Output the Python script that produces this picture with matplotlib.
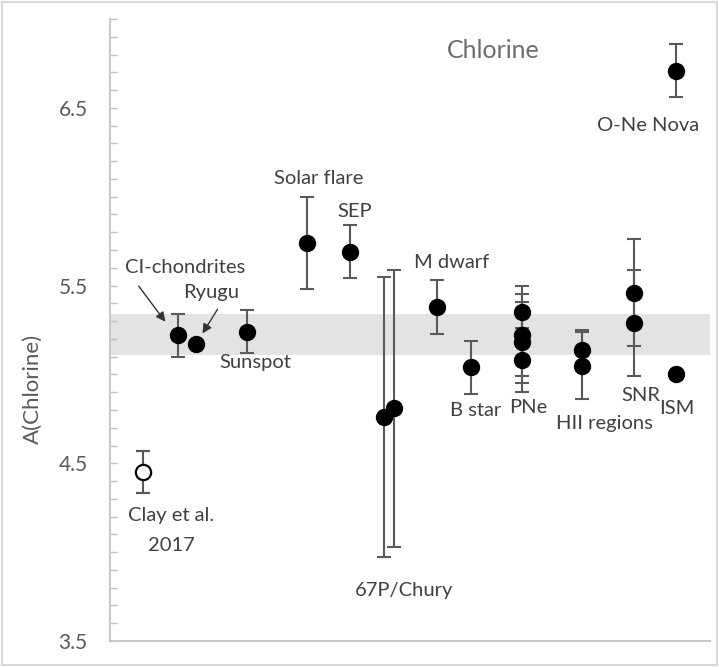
import numpy as np
import matplotlib
matplotlib.use("Agg")
from matplotlib import pyplot as plt
from matplotlib.patches import Rectangle
from matplotlib.ticker import MultipleLocator

plt.rcParams['font.family'] = ['Lato', 'DejaVu Sans']

# --- DATA ---
# x positions are just horizontal slots (no x scale in the original)
names = ['CI-chondrites', 'Ryugu', 'Sunspot', 'Solar flare', 'SEP',
         '67P/Chury a', '67P/Chury b', 'M dwarf', 'B star',
         'PNe 1', 'PNe 2', 'PNe 3', 'PNe 4',
         'HII 1', 'HII 2', 'SNR 1', 'SNR 2', 'ISM', 'O-Ne Nova']
x_pos = [68, 86, 137, 197, 240, 274, 284, 327, 361,
         412, 412, 412, 412, 472, 472, 524, 524, 566, 566]
abund = [5.22, 5.17, 5.24, 5.74, 5.69, 4.76, 4.81, 5.38, 5.04,
         5.35, 5.22, 5.18, 5.08, 5.14, 5.05, 5.46, 5.29, 5.00, 6.71]
err = [0.12, 0.0, 0.12, 0.26, 0.15, 0.79, 0.78, 0.15, 0.15,
       0.15, 0.23, 0.23, 0.18, 0.11, 0.19, 0.30, 0.30, 0.0, 0.15]

# Clay et al. 2017 (open symbol)
clay_x = 33
clay_y = 4.45
clay_err = 0.12

# solar band
band_lo, band_hi = 5.11, 5.34

# --- FIGURE ---
fig = plt.figure(figsize=(7.19, 6.67), dpi=100)
ax = fig.add_axes([110 / 719, 26 / 667, 600 / 719, 622 / 667])

ax.axhspan(band_lo, band_hi, color='#e3e3e3', zorder=0, lw=0)

ax.errorbar(x_pos, abund, yerr=err, fmt='o', color='black', ms=11.5,
            ecolor='#5a5a5a', elinewidth=1.5, capsize=5, capthick=1.5, zorder=3)
ax.errorbar([clay_x], [clay_y], yerr=[clay_err], fmt='o', mfc='white', mec='black',
            mew=1.6, ms=11, ecolor='#5a5a5a', elinewidth=1.5, capsize=5, capthick=1.5,
            zorder=3)

ax.set_xlim(0, 600)
ax.set_ylim(3.5, 7.0)
ax.set_xticks([])
ax.yaxis.set_minor_locator(MultipleLocator(0.1))
ax.set_yticks([3.5, 4.5, 5.5, 6.5])
ax.set_yticklabels(['3.5', '4.5', '5.5', '6.5'])
ax.tick_params(axis='y', which='both', direction='in', length=5, width=1,
               color='#bfbfbf', labelsize=15, labelcolor='#595959', pad=16)

for s in ['top', 'right']:
    ax.spines[s].set_visible(False)
for s in ['left', 'bottom']:
    ax.spines[s].set_color('#c8c8c8')
    ax.spines[s].set_linewidth(1.5)

ax.set_ylabel('A(Chlorine)', fontsize=16, color='#595959', labelpad=8)
ax.yaxis.set_label_coords(-0.112, 0.405)

txt = dict(ha='center', va='center', fontsize=14.5, color='#404040')
ax.text(383, 6.82, 'Chlorine', ha='center', va='center', fontsize=18, color='#6d6d6d')
ax.text(538, 6.40, 'O-Ne Nova', **txt)
ax.text(209, 6.10, 'Solar flare', **txt)
ax.text(245, 5.915, 'SEP', **txt)
ax.text(342, 5.628, 'M dwarf', **txt)
ax.text(75, 5.60, 'CI-chondrites', **txt)
ax.text(101, 5.459, 'Ryugu', **txt)
ax.text(145, 5.065, 'Sunspot', **txt)
ax.text(366, 4.795, 'B star', **txt)
ax.text(418, 4.812, 'PNe', **txt)
ax.text(494, 4.722, 'HII regions', **txt)
ax.text(531, 4.879, 'SNR', **txt)
ax.text(567, 4.806, 'ISM', **txt)
ax.text(294, 3.782, '67P/Chury', **txt)
ax.text(61, 4.204, 'Clay et al.', **txt)
ax.text(61, 4.04, '2017', **txt)

arrow = dict(arrowstyle='-|>', color='#333333', lw=1.0, mutation_scale=14)
ax.annotate('', xy=(57, 5.284), xytext=(27, 5.51), arrowprops=arrow)
ax.annotate('', xy=(91, 5.217), xytext=(109, 5.38), arrowprops=arrow)

# outer frame of the chart area
fig.patches.append(Rectangle((0.003, 0.003), 0.994, 0.994, transform=fig.transFigure,
                             fill=False, edgecolor='#d9d9d9', lw=1.5))

plt.savefig('out.png', dpi=100)
